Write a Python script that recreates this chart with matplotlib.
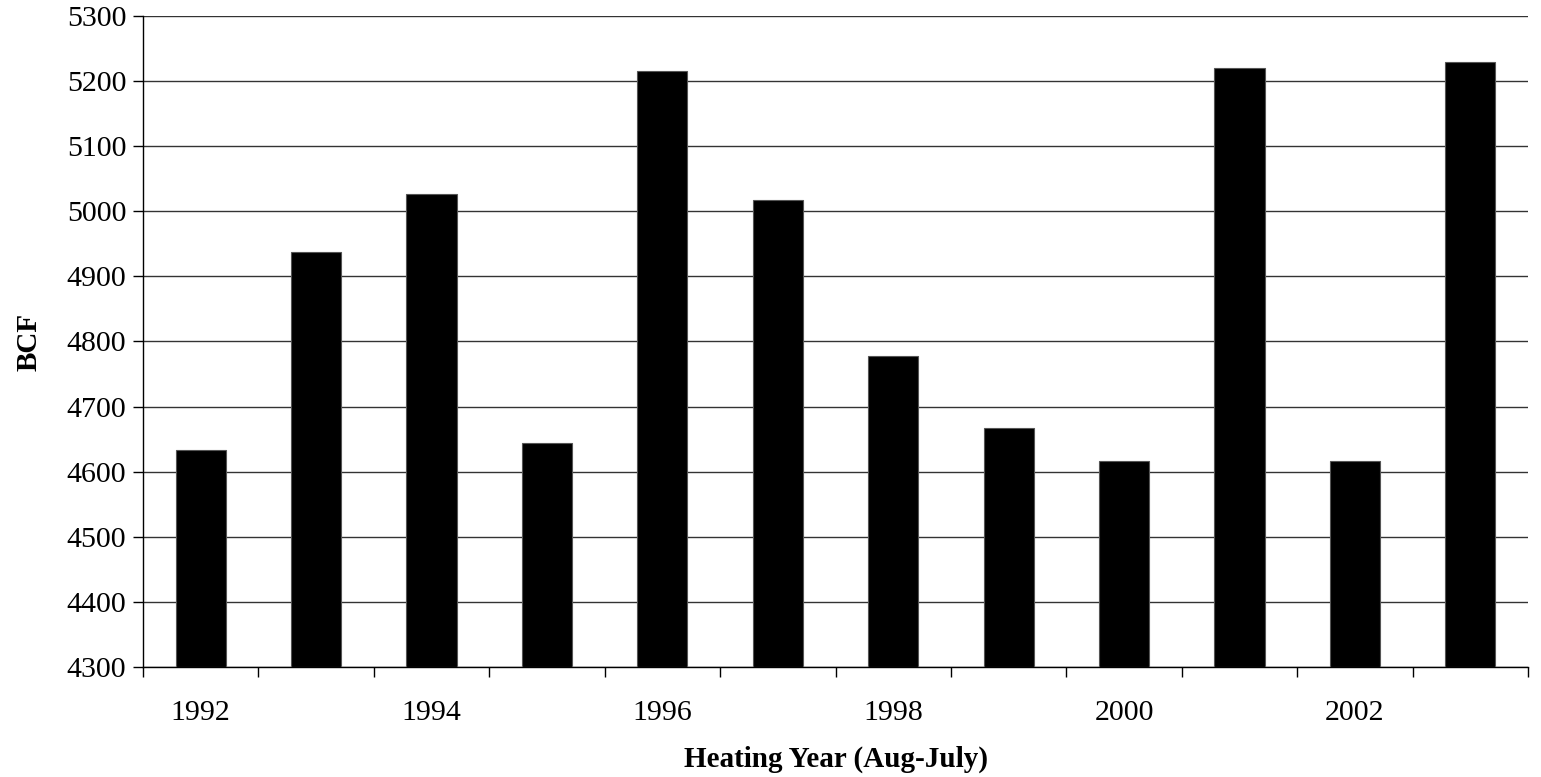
import numpy as np
import matplotlib.pyplot as plt

years = [1992, 1993, 1994, 1995, 1996, 1997, 1998, 1999, 2000, 2001, 2002, 2003]
bcf = [4634, 4938, 5027, 4644, 5216, 5017, 4778, 4667, 4616, 5220, 4616, 5229]
y_ticks = [4300, 4400, 4500, 4600, 4700, 4800, 4900, 5000, 5100, 5200, 5300]

plt.rcParams['font.family'] = ['Liberation Serif', 'DejaVu Serif']

fig = plt.figure(figsize=(15.41, 7.77), dpi=100)
ax = fig.add_axes([143 / 1541, 1 - 667 / 777, (1528 - 143) / 1541, (667 - 16) / 777])

x = np.arange(len(years))
ax.bar(x, np.array(bcf) - 4300, bottom=4300, width=0.435, color='black',
       edgecolor='#555555', linewidth=0.8, zorder=3)

ax.set_xlim(-0.5, len(years) - 0.5)
ax.set_ylim(4300, 5300)
ax.set_yticks(y_ticks)
ax.set_yticklabels([str(v) for v in y_ticks], fontsize=21.5)
ax.yaxis.grid(True, color='#333333', linewidth=1.0, zorder=0)

# tick marks at category boundaries, labels on every other year
ax.set_xticks(np.arange(-0.5, len(years), 1.0))
ax.set_xticklabels([])
ax.set_xticks(x[::2], minor=True)
ax.set_xticklabels([str(y) for y in years[::2]], minor=True, fontsize=21.5)
ax.tick_params(axis='x', which='major', direction='out', length=7, width=1)
ax.tick_params(axis='x', which='minor', length=0, pad=24)
ax.tick_params(axis='y', direction='out', length=7, width=1, pad=5)

for s in ['top', 'right']:
    ax.spines[s].set_visible(False)
ax.spines['left'].set_linewidth(1)
ax.spines['bottom'].set_linewidth(1)

ax.set_xlabel('Heating Year (Aug-July)', fontsize=21, fontweight='bold', labelpad=14)
ax.set_ylabel('BCF', fontsize=21, fontweight='bold', labelpad=17)

fig.savefig('out.png', dpi=100)
